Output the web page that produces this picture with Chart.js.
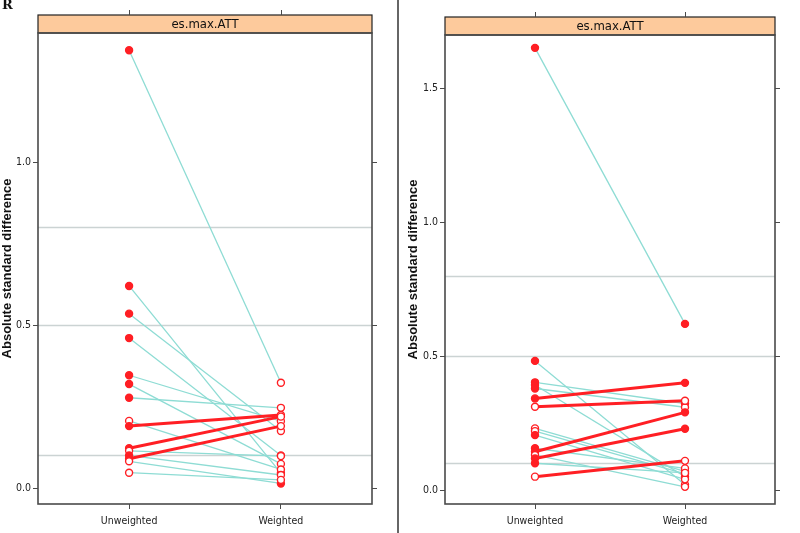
<!DOCTYPE html>
<html>
<head>
<meta charset="utf-8">
<script src="https://cdn.jsdelivr.net/npm/chart.js@4.4.1/dist/chart.umd.min.js"></script>
<style>
  html, body { margin:0; padding:0; background:#fff; }
  #wrap { position:relative; width:800px; height:533px; overflow:hidden; }
  .panel { position:absolute; top:0; height:533px; }
  #divider { position:absolute; left:397px; top:0; width:2px; height:533px; background:#666; }
  #tag { position:absolute; left:2px; top:-3px; font:bold 13px "DejaVu Serif", serif; color:#111; }
</style>
</head>
<body>
<div id="wrap">
  <div class="panel" style="left:0;width:397px"><canvas id="leftChart"></canvas></div>
  <div id="divider"></div>
  <div class="panel" style="left:400px;width:400px"><canvas id="rightChart"></canvas></div>
  <div id="tag">R</div>
</div>
<script>
// ===========================
// DATA
// ===========================

const categories = ["Unweighted", "Weighted"];
const stripLabel = "es.max.ATT";
const yTitle = "Absolute standard difference";
const refLines = [0.1, 0.5, 0.8];

const leftTicks = [0, 0.5, 1.0];
const leftUnweighted = [1.343, 0.62, 0.535, 0.46, 0.346, 0.319, 0.277, 0.206, 0.19, 0.122, 0.114, 0.10, 0.09, 0.082, 0.047];
const leftWeighted   = [0.323, 0.046, 0.175, 0.10, 0.205, 0.074, 0.246, 0.057, 0.224, 0.219, 0.098, 0.04, 0.19, 0.014, 0.025];
const leftUnwSig     = [1, 1, 1, 1, 1, 1, 1, 0, 1, 1, 0, 1, 1, 0, 0];
const leftWtdSig     = [0, 0, 0, 0, 0, 0, 0, 0, 0, 0, 0, 0, 0, 1, 0];

const rightTicks = [0, 0.5, 1.0, 1.5];
const rightUnweighted = [1.65, 0.482, 0.402, 0.392, 0.379, 0.342, 0.311, 0.23, 0.22, 0.205, 0.156, 0.143, 0.131, 0.118, 0.10, 0.05];
const rightWeighted   = [0.62, 0.02, 0.323, 0.05, 0.309, 0.40, 0.333, 0.07, 0.06, 0.04, 0.081, 0.29, 0.012, 0.229, 0.064, 0.109];
const rightUnwSig     = [1, 1, 1, 1, 1, 1, 0, 0, 0, 1, 1, 1, 0, 1, 1, 0];
const rightWtdSig     = [1, 0, 0, 0, 0, 1, 0, 0, 0, 0, 0, 1, 0, 1, 0, 0];

// ===========================
// STYLE
// ===========================

const RED = "#ff1f24";
const CYAN = "#8edcd4";
const REF = "#cbd3d3";
const AXIS = "#4a4a4a";
const NARROW = "'Liberation Sans Narrow', 'DejaVu Sans Condensed', 'Liberation Sans', Arial, sans-serif";

function buildDatasets(unw, wtd, sigU, sigW){

    const sets = [];

    unw.forEach((u, i) => {
        const up = wtd[i] > u;
        sets.push({
            data:[{x:1, y:u}, {x:2, y:wtd[i]}],
            showLine:true,
            borderColor: up ? RED : CYAN,
            borderWidth: up ? 3 : 1.3,
            pointRadius:0,
            order: up ? 1 : 2
        });
    });

    const pts = (vals, sig, xv) => ({
        data: vals.map(v => ({x:xv, y:v})),
        showLine:false,
        pointRadius:3.5,
        pointBorderWidth:1.4,
        pointBorderColor:RED,
        pointBackgroundColor: sig.map(s => s ? RED : "#fff"),
        order:0
    });

    sets.push(pts(unw, sigU, 1));
    sets.push(pts(wtd, sigW, 2));
    return sets;
}

function panelPlugin(stripTop, ticks){
    return {
        id:"panel",
        beforeDatasetsDraw(chart){
            const {ctx, chartArea:a, scales:{y}} = chart;
            ctx.save();
            ctx.strokeStyle = REF;
            ctx.lineWidth = 1.6;
            refLines.forEach(v => {
                const py = Math.round(y.getPixelForValue(v)) + 0.5;
                ctx.beginPath();
                ctx.moveTo(a.left, py);
                ctx.lineTo(a.right, py);
                ctx.stroke();
            });
            ctx.restore();
        },
        afterDraw(chart){
            const {ctx, chartArea:a, scales:{x, y}} = chart;
            ctx.save();

            // strip
            ctx.fillStyle = "#fdca9c";
            ctx.fillRect(a.left, stripTop, a.right - a.left, a.top - stripTop);
            ctx.strokeStyle = "#222";
            ctx.lineWidth = 1.2;
            ctx.strokeRect(a.left, stripTop, a.right - a.left, a.top - stripTop);
            ctx.fillStyle = "#111";
            ctx.font = "13px " + NARROW;
            ctx.textAlign = "center";
            ctx.textBaseline = "middle";
            ctx.fillText(stripLabel, (a.left + a.right) / 2, (stripTop + a.top) / 2 + 1);

            // box
            ctx.strokeStyle = AXIS;
            ctx.lineWidth = 1.6;
            ctx.strokeRect(a.left, a.top, a.right - a.left, a.bottom - a.top);

            // top ticks
            ctx.lineWidth = 1;
            [1, 2].forEach(v => {
                const px = Math.round(x.getPixelForValue(v)) + 0.5;
                ctx.beginPath();
                ctx.moveTo(px, stripTop - 5);
                ctx.lineTo(px, stripTop);
                ctx.stroke();
            });

            // right ticks
            ticks.forEach(v => {
                const py = Math.round(y.getPixelForValue(v)) + 0.5;
                ctx.beginPath();
                ctx.moveTo(a.right, py);
                ctx.lineTo(a.right + 5, py);
                ctx.stroke();
            });
            ctx.restore();
        }
    };
}

function makeChart(id, unw, wtd, sigU, sigW, ticks, yMin, yMax, pad, yWidth, stripTop){

    return new Chart(document.getElementById(id), {
        type:"scatter",
        data:{ datasets: buildDatasets(unw, wtd, sigU, sigW) },
        options:{
            responsive:true,
            maintainAspectRatio:false,
            animation:false,
            events:[],
            layout:{ padding: pad },
            plugins:{ legend:{display:false}, tooltip:{enabled:false} },
            scales:{
                x:{
                    type:"linear",
                    min:0.4,
                    max:2.6,
                    afterBuildTicks: s => { s.ticks = [1, 2].map(v => ({value:v})); },
                    afterFit: s => { s.height = 29; },
                    border:{display:false},
                    grid:{drawOnChartArea:false, color:AXIS, tickLength:5},
                    ticks:{
                        padding:6,
                        color:"#222",
                        font:{family:NARROW, size:10.5},
                        callback: v => categories[v - 1]
                    }
                },
                y:{
                    type:"linear",
                    min:yMin,
                    max:yMax,
                    afterBuildTicks: s => { s.ticks = ticks.map(v => ({value:v})); },
                    afterFit: s => { s.width = yWidth; },
                    border:{display:false},
                    grid:{drawOnChartArea:false, color:AXIS, tickLength:5},
                    title:{
                        display:true,
                        text:yTitle,
                        color:"#111",
                        padding:0,
                        font:{family:"'Liberation Sans', Arial, sans-serif", size:13, weight:"bold"}
                    },
                    ticks:{
                        padding:2,
                        color:"#222",
                        font:{family:NARROW, size:10.5},
                        callback: v => v.toFixed(1)
                    }
                }
            }
        },
        plugins:[panelPlugin(stripTop, ticks)]
    });
}

// ===========================
// START
// ===========================

makeChart("leftChart", leftUnweighted, leftWeighted, leftUnwSig, leftWtdSig,
    leftTicks, -0.049, 1.396, {top:33, right:25, bottom:0, left:0}, 38, 15);

makeChart("rightChart", rightUnweighted, rightWeighted, rightUnwSig, rightWtdSig,
    rightTicks, -0.052, 1.698, {top:35, right:25, bottom:0, left:6}, 39, 17);
</script>
</body>
</html>
